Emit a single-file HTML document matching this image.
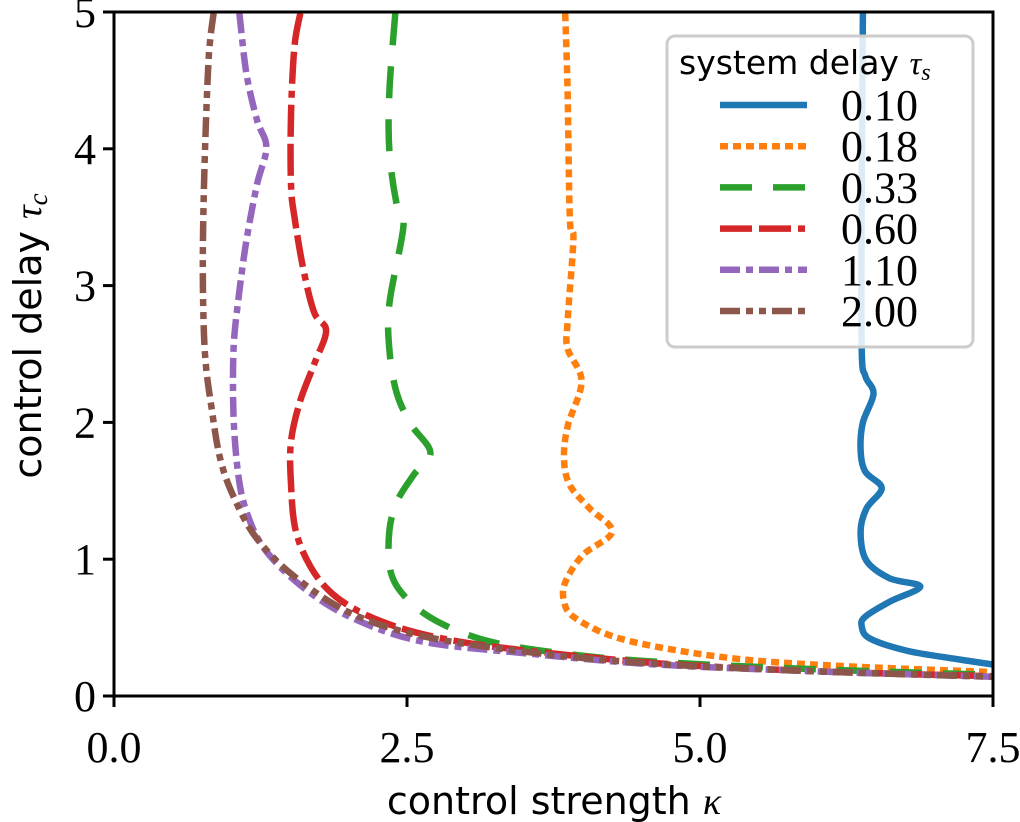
<!DOCTYPE html>
<html><head><meta charset="utf-8"><style>
html,body{margin:0;padding:0;background:#fff;}
svg{display:block;}
</style></head><body>
<svg id="chart" width="1020" height="822" viewBox="0 0 1020 822" xmlns="http://www.w3.org/2000/svg">
<g id="series"></g>
<g id="axes"></g>
<g id="legend"></g>
</svg>
<script>
const seriesNames = ["0.10","0.18","0.33","0.60","1.10","2.00"];
const seriesColors = ["#1f77b4","#ff7f0e","#2ca02c","#d62728","#9467bd","#8c564b"];
const seriesDash = ["", "8 5", "32 21", "32 7 32 7 7 7", "20 6 7 6", "20 6 7 6 7 6"];
const xTicks = [0, 2.5, 5, 7.5];
const xTickLabels = ["0.0","2.5","5.0","7.5"];
const yTicks = [0,1,2,3,4,5];
const yTickLabels = ["0","1","2","3","4","5"];
const s010_k = [6.39,6.38,6.38,6.41,6.48,6.39,6.37,6.41,6.55,6.42,6.37,6.42,6.62,6.88,6.62,6.41,6.38,6.45,6.77,7.19,7.5];
const s010_t = [4.99,3.63,2.54,2.34,2.21,2.00,1.80,1.64,1.52,1.37,1.20,0.99,0.86,0.80,0.69,0.58,0.51,0.42,0.33,0.27,0.23];
const s018_k = [3.85,3.87,3.89,3.92,3.87,3.87,3.99,3.87,3.84,3.89,4.06,4.25,4.00,3.85,3.84,3.92,4.21,4.63,5.34,6.19,7.5];
const s018_t = [4.99,4.42,3.48,3.34,2.74,2.54,2.30,1.97,1.73,1.54,1.37,1.20,1.03,0.83,0.69,0.58,0.45,0.36,0.27,0.22,0.175];
const s033_k = [2.40,2.35,2.35,2.41,2.47,2.35,2.35,2.41,2.53,2.70,2.56,2.42,2.35,2.36,2.50,2.77,3.20,3.84,4.63,6.0,7.5];
const s033_t = [4.99,4.42,3.98,3.60,3.44,2.87,2.53,2.22,1.99,1.78,1.62,1.43,1.21,0.91,0.71,0.54,0.40,0.31,0.25,0.195,0.155];
const s060_k = [1.59,1.54,1.51,1.51,1.54,1.62,1.71,1.81,1.71,1.59,1.51,1.51,1.55,1.68,1.86,2.11,2.47,2.93,3.54,4.63,6.0,7.5];
const s060_t = [4.99,4.75,4.25,3.74,3.50,3.10,2.80,2.67,2.43,2.16,1.86,1.55,1.21,0.94,0.75,0.61,0.49,0.40,0.33,0.24,0.18,0.145];
const s110_k = [1.07,1.13,1.22,1.30,1.22,1.13,1.06,1.02,1.02,1.06,1.13,1.28,1.59,2.01,2.62,3.54,4.63,6.0,7.5];
const s110_t = [4.99,4.55,4.21,4.01,3.74,3.33,2.89,2.53,2.05,1.62,1.35,1.08,0.81,0.58,0.40,0.31,0.23,0.18,0.14];
const s200_k = [0.85,0.81,0.78,0.76,0.76,0.78,0.83,0.91,1.04,1.22,1.53,2.01,2.62,3.54,4.63,6.0,7.5];
const s200_t = [4.99,4.69,4.08,3.41,2.89,2.46,2.12,1.72,1.42,1.15,0.88,0.61,0.44,0.32,0.235,0.18,0.14];
const seriesK = [s010_k,s018_k,s033_k,s060_k,s110_k,s200_k];
const seriesT = [s010_t,s018_t,s033_t,s060_t,s110_t,s200_t];

const NS="http://www.w3.org/2000/svg";
const L=114,R=993,T=12,B=696,xMin=0,xMax=7.5,yMin=0,yMax=5;
function xs(v){return L+(v-xMin)/(xMax-xMin)*(R-L);}
function ys(v){return B-(v-yMin)/(yMax-yMin)*(B-T);}
function mk(tag,attrs,parent){const e=document.createElementNS(NS,tag);for(const k in attrs)e.setAttribute(k,attrs[k]);parent.appendChild(e);return e;}
function smoothPath(P){
  let d='M'+P[0][0].toFixed(1)+','+P[0][1].toFixed(1);
  for(let i=0;i<P.length-1;i++){
    const p0=P[Math.max(0,i-1)],p1=P[i],p2=P[i+1],p3=P[Math.min(P.length-1,i+2)];
    const t=1/6;
    const c1=[p1[0]+(p2[0]-p0[0])*t,p1[1]+(p2[1]-p0[1])*t];
    const c2=[p2[0]-(p3[0]-p1[0])*t,p2[1]-(p3[1]-p1[1])*t];
    d+=' C'+c1[0].toFixed(1)+','+c1[1].toFixed(1)+' '+c2[0].toFixed(1)+','+c2[1].toFixed(1)+' '+p2[0].toFixed(1)+','+p2[1].toFixed(1);
  }
  return d;
}

const sg=document.getElementById('series');
const clip=mk('clipPath',{id:'pc'},document.getElementById('chart'));
mk('rect',{x:L,y:T-2,width:R-L,height:B-T+2},clip);
sg.setAttribute('clip-path','url(#pc)');
seriesNames.forEach((n,i)=>{
  const pts=seriesK[i].map((k,j)=>[xs(k),ys(seriesT[i][j])]);
  const p=mk('path',{d:smoothPath(pts),fill:'none',stroke:seriesColors[i],'stroke-width':6.5,'stroke-linejoin':'round'},sg);
  if(seriesDash[i])p.setAttribute('stroke-dasharray',seriesDash[i]);
  
  
});

const ag=document.getElementById('axes');
const frame=mk('rect',{x:L,y:T,width:R-L,height:B-T,fill:'none',stroke:'#000','stroke-width':3},ag);


xTicks.forEach((v,i)=>{
  const tk=mk('line',{x1:xs(v),x2:xs(v),y1:B,y2:B+11,stroke:'#000','stroke-width':3},ag);
  
  
  const tx=mk('text',{x:xs(v),y:762,'text-anchor':'middle','font-family':'Liberation Serif, serif','font-size':44},ag);
  tx.textContent=xTickLabels[i];
  
  
});
yTicks.forEach((v,i)=>{
  const tk=mk('line',{x1:L-11,x2:L,y1:ys(v),y2:ys(v),stroke:'#000','stroke-width':3},ag);
  
  
  const tx=mk('text',{x:L-18,y:ys(v)+15,'text-anchor':'end','font-family':'Liberation Serif, serif','font-size':44},ag);
  tx.textContent=yTickLabels[i];
  
  
});
const xl=mk('text',{x:554,y:814,'text-anchor':'middle','font-family':'DejaVu Sans, sans-serif','font-size':38},ag);
xl.innerHTML='control strength <tspan font-family="Liberation Serif, serif" font-style="italic">κ</tspan>';


const yl=mk('text',{x:0,y:0,'text-anchor':'middle','font-family':'DejaVu Sans, sans-serif','font-size':38,transform:'translate(41,336) rotate(-90)'},ag);
yl.innerHTML='control delay <tspan font-family="Liberation Serif, serif" font-style="italic">τ</tspan><tspan font-family="Liberation Serif, serif" font-style="italic" font-size="27" dy="6">c</tspan>';



const lg=document.getElementById('legend');
const box=mk('rect',{x:667,y:36,width:306,height:311,rx:8,fill:'#fff','fill-opacity':0.85,stroke:'#cccccc','stroke-width':3},lg);


const lt=mk('text',{x:679,y:74,'font-family':'DejaVu Sans, sans-serif','font-size':33},lg);
lt.innerHTML='system delay <tspan font-family="Liberation Serif, serif" font-style="italic">τ</tspan><tspan font-family="Liberation Serif, serif" font-style="italic" font-size="24" dy="6">s</tspan>';


seriesNames.forEach((n,i)=>{
  const y=105+i*41.2;
  const g=mk('g',{},lg);
  
  
  const ln=mk('line',{x1:720,x2:807,y1:y,y2:y,stroke:seriesColors[i],'stroke-width':6.5},g);
  if(seriesDash[i])ln.setAttribute('stroke-dasharray',seriesDash[i]);
  
  
  const tx=mk('text',{x:841,y:y+15,'font-family':'Liberation Serif, serif','font-size':44},g);
  tx.textContent=n;
  
  
});
</script>
</body></html>
